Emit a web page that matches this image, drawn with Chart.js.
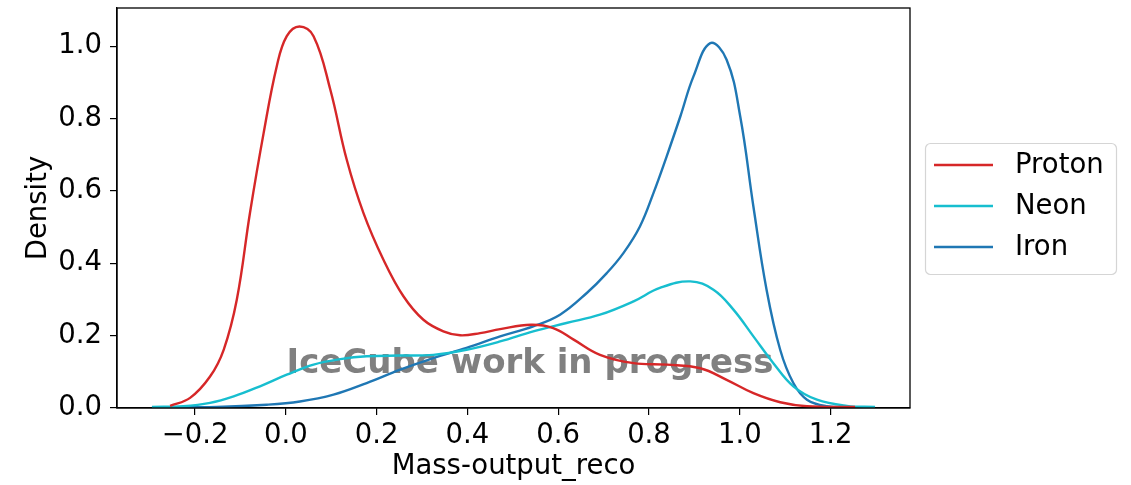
<!DOCTYPE html>
<html>
<head>
<meta charset="utf-8">
<script src="https://cdn.jsdelivr.net/npm/chart.js@4.4.0/dist/chart.umd.min.js"></script>
<style>
  html, body { margin: 0; padding: 0; background: #fff; }
  #wrap { width: 1131px; height: 485px; }
</style>
</head>
<body>
<div id="wrap"><canvas id="myChart" width="1131" height="485"></canvas></div>
<script>
// datos (curvas KDE)
const protonX = [-0.255, -0.211, -0.167, -0.137, -0.108, -0.079, -0.049, -0.020, 0.002, 0.030, 0.061, 0.098, 0.134, 0.171, 0.215, 0.259, 0.303, 0.347, 0.384, 0.428, 0.472, 0.540, 0.589, 0.634, 0.692, 0.766, 0.839, 0.913, 0.971, 1.030, 1.089, 1.148, 1.254];
const protonY = [0.006, 0.028, 0.087, 0.161, 0.300, 0.540, 0.760, 0.945, 1.028, 1.055, 1.028, 0.880, 0.687, 0.539, 0.410, 0.309, 0.244, 0.212, 0.201, 0.207, 0.218, 0.230, 0.221, 0.189, 0.147, 0.124, 0.120, 0.110, 0.078, 0.041, 0.016, 0.005, 0.003];

const neonX = [-0.295, -0.226, -0.167, -0.115, -0.057, 0.002, 0.061, 0.120, 0.178, 0.252, 0.325, 0.398, 0.472, 0.545, 0.618, 0.692, 0.766, 0.824, 0.891, 0.942, 0.986, 1.030, 1.074, 1.118, 1.170, 1.236, 1.298];
const neonY = [0.003, 0.005, 0.014, 0.032, 0.060, 0.092, 0.120, 0.135, 0.143, 0.145, 0.147, 0.161, 0.184, 0.212, 0.235, 0.258, 0.295, 0.332, 0.350, 0.327, 0.272, 0.198, 0.124, 0.060, 0.023, 0.006, 0.003];

const ironX = [-0.295, -0.152, -0.042, 0.031, 0.105, 0.178, 0.252, 0.325, 0.398, 0.472, 0.545, 0.604, 0.663, 0.707, 0.744, 0.780, 0.810, 0.839, 0.869, 0.898, 0.935, 0.971, 1.001, 1.030, 1.059, 1.089, 1.118, 1.148, 1.192, 1.250];
const ironY = [0.002, 0.003, 0.009, 0.018, 0.037, 0.069, 0.106, 0.138, 0.166, 0.198, 0.226, 0.258, 0.318, 0.373, 0.429, 0.502, 0.595, 0.696, 0.806, 0.917, 1.009, 0.963, 0.806, 0.557, 0.327, 0.161, 0.069, 0.023, 0.005, 0.002];

const xTicks = [-0.2, 0.0, 0.2, 0.4, 0.6, 0.8, 1.0, 1.2];
const yTicks = [0.0, 0.2, 0.4, 0.6, 0.8, 1.0];

const seriesNames = ['Proton', 'Neon', 'Iron'];
const seriesColors = ['#d62728', '#17becf', '#1f77b4'];

const FONT = "'DejaVu Sans', sans-serif";
const FSIZE = 27.5;

function puntos(xs, ys) {
    return xs.map((x, i) => ({ x: x, y: ys[i] }));
}

function etiqueta(v) {
    return v.toFixed(1).replace('-', '\u2212');
}

// marca de agua
const marcaAgua = {
    id: 'marcaAgua',
    beforeDatasetsDraw(chart) {
        const ctx = chart.ctx;
        ctx.save();
        ctx.font = "bold 34px " + FONT;
        ctx.fillStyle = '#808080';
        ctx.textAlign = 'center';
        ctx.textBaseline = 'alphabetic';
        ctx.fillText('IceCube work in progress', 530, 373);
        ctx.restore();
    }
};

// marco + leyenda estilo matplotlib
const marco = {
    id: 'marco',
    afterDraw(chart) {
        const ctx = chart.ctx;
        const a = chart.chartArea;
        ctx.save();
        ctx.strokeStyle = '#000';
        ctx.lineWidth = 1.3;
        ctx.strokeRect(a.left, a.top, a.right - a.left, a.bottom - a.top);

        // leyenda
        ctx.fillStyle = 'rgba(255,255,255,0.8)';
        ctx.strokeStyle = '#d5d5d5';
        ctx.lineWidth = 1.2;
        ctx.beginPath();
        ctx.roundRect(925.5, 143.5, 191, 131, 5);
        ctx.fill();
        ctx.stroke();

        ctx.font = FSIZE + "px " + FONT;
        ctx.textBaseline = 'middle';
        ctx.textAlign = 'left';
        chart.data.datasets.forEach((ds, i) => {
            const y = 165 + i * 41;
            ctx.strokeStyle = ds.borderColor;
            ctx.lineWidth = 2.4;
            ctx.beginPath();
            ctx.moveTo(934, y);
            ctx.lineTo(993, y);
            ctx.stroke();
            ctx.fillStyle = '#000';
            ctx.fillText(ds.label, 1015, y + 1);
        });
        ctx.restore();
    }
};

const data = {
    datasets: [
        { label: seriesNames[0], data: puntos(protonX, protonY), borderColor: seriesColors[0] },
        { label: seriesNames[1], data: puntos(neonX, neonY), borderColor: seriesColors[1] },
        { label: seriesNames[2], data: puntos(ironX, ironY), borderColor: seriesColors[2] }
    ].map(d => Object.assign(d, {
        borderWidth: 2.4,
        pointRadius: 0,
        fill: false,
        tension: 0.4
    }))
};

const config = {
    type: 'line',
    data: data,
    options: {
        responsive: false,
        animation: false,
        layout: { padding: { left: 0, right: 221, top: 8, bottom: 0 } },
        plugins: {
            legend: { display: false },
            tooltip: { enabled: false }
        },
        scales: {
            x: {
                type: 'linear',
                min: -0.372,
                max: 1.375,
                afterBuildTicks: s => { s.ticks = xTicks.map(v => ({ value: v })); },
                afterFit: s => { s.height = 77; s.paddingLeft = 0; s.paddingRight = 0; },
                grid: { drawOnChartArea: false, drawTicks: true, tickLength: 7, color: '#000', lineWidth: 1.2 },
                border: { display: true, color: '#000', width: 1.3 },
                ticks: {
                    color: '#000',
                    font: { family: FONT, size: FSIZE },
                    padding: 4,
                    maxRotation: 0,
                    callback: v => etiqueta(v)
                },
                title: {
                    display: true,
                    text: 'Mass-output_reco',
                    color: '#000',
                    font: { family: FONT, size: FSIZE },
                    padding: { top: 0, bottom: 2 }
                }
            },
            y: {
                type: 'linear',
                min: 0,
                max: 1.106,
                afterBuildTicks: s => { s.ticks = yTicks.map(v => ({ value: v })); },
                afterFit: s => { s.width = 117; s.paddingTop = 0; s.paddingBottom = 0; },
                grid: { drawOnChartArea: false, drawTicks: true, tickLength: 7, color: '#000', lineWidth: 1.2 },
                border: { display: true, color: '#000', width: 1.3 },
                ticks: {
                    color: '#000',
                    font: { family: FONT, size: FSIZE },
                    padding: 8,
                    callback: v => etiqueta(v)
                },
                title: {
                    display: true,
                    text: 'Density',
                    color: '#000',
                    font: { family: FONT, size: FSIZE },
                    padding: { top: 22, bottom: 0 }
                }
            }
        }
    },
    plugins: [marcaAgua, marco]
};

let myChart = new Chart(document.getElementById('myChart'), config);
</script>
</body>
</html>
